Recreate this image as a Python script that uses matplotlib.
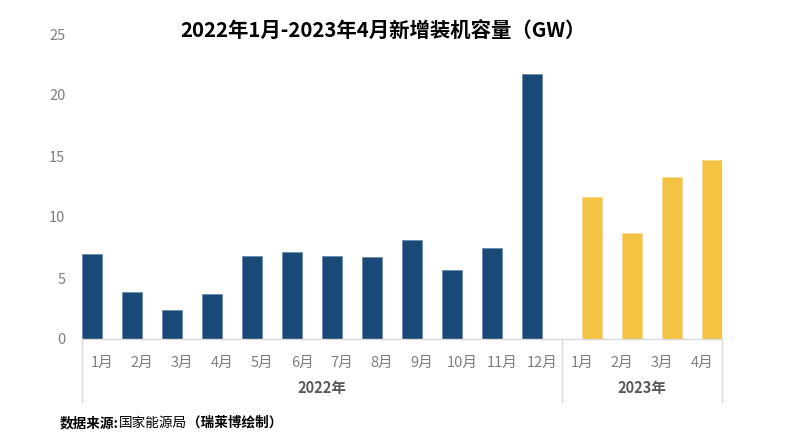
import numpy as np
import matplotlib
matplotlib.use("Agg")
import matplotlib.pyplot as plt
import matplotlib.transforms as mtransforms

plt.rcParams['font.family'] = ['Noto Sans CJK SC', 'DejaVu Sans']

# ============ DATA ============
months = ["1月", "2月", "3月", "4月", "5月", "6月", "7月", "8月", "9月", "10月", "11月", "12月",
          "1月", "2月", "3月", "4月"]
years = ["2022年", "2023年"]
year_sizes = [12, 4]
vals_2022 = [7.0, 3.85, 2.4, 3.7, 6.8, 7.1, 6.8, 6.7, 8.1, 5.65, 7.45, 21.7]
vals_2023 = [11.65, 8.65, 13.25, 14.65]
title = "2022年1月-2023年4月新增装机容量（GW）"
# ==============================

BLUE = "#1a4b78"
YELLOW = "#f4c343"
GREY = "#7f7f7f"
LINE = "#d9d9d9"

fig = plt.figure(figsize=(7.88, 4.43), dpi=100)
ax = fig.add_axes([82 / 788, (443 - 339) / 443, 640 / 788, 305 / 443])

x = np.arange(len(months))
n22 = len(vals_2022)
ax.bar(x[:n22] - 0.25, vals_2022, width=0.5, color=BLUE, edgecolor="#5a7fa3", linewidth=0.4)
ax.bar(x[n22:] + 0.25, vals_2023, width=0.5, color=YELLOW, edgecolor="#f7d77f", linewidth=0.4)

ax.set_xlim(-0.5, len(months) - 0.5)
ax.set_ylim(0, 25)
ax.set_yticks([0, 5, 10, 15, 20, 25])
ax.tick_params(axis="y", length=0, pad=12, labelsize=10.5, labelcolor=GREY)
ax.set_xticks(x)
ax.set_xticklabels(months)
ax.tick_params(axis="x", length=0, pad=12, labelsize=10.5, labelcolor=GREY)

for s in ["top", "right", "left"]:
    ax.spines[s].set_visible(False)
ax.spines["bottom"].set_color(LINE)
ax.spines["bottom"].set_linewidth(1)

# group separators and year labels
trans = mtransforms.blended_transform_factory(ax.transData, ax.transAxes)
edges = np.concatenate([[0], np.cumsum(year_sizes)]) - 0.5
for e in edges:
    ax.plot([e, e], [0, -0.205], transform=trans, color=LINE, lw=1, clip_on=False)
for i, yr in enumerate(years):
    cx = (edges[i] + edges[i + 1]) / 2
    ax.text(cx, -0.162, yr, transform=trans, ha="center", va="center",
            fontsize=10.5, fontweight="bold", color="#595959")

fig.text(383 / 788, 1 - 30 / 443, title, ha="center", va="center",
         fontsize=14.7, fontweight="bold", color="black")

# source line: bold / normal / bold pieces
t1 = fig.text(60 / 788, 1 - 423 / 443, "数据来源:", ha="left", va="center",
              fontsize=9.8, fontweight="bold")
fig.canvas.draw()
bb = t1.get_window_extent()
t2 = fig.text(bb.x1 / fig.bbox.width, 1 - 423 / 443, "国家能源局", ha="left", va="center",
              fontsize=9.8)
fig.canvas.draw()
bb2 = t2.get_window_extent()
fig.text(bb2.x1 / fig.bbox.width, 1 - 423 / 443, "（瑞莱博绘制）", ha="left", va="center",
         fontsize=9.8, fontweight="bold")

fig.savefig("out.png", dpi=100)
